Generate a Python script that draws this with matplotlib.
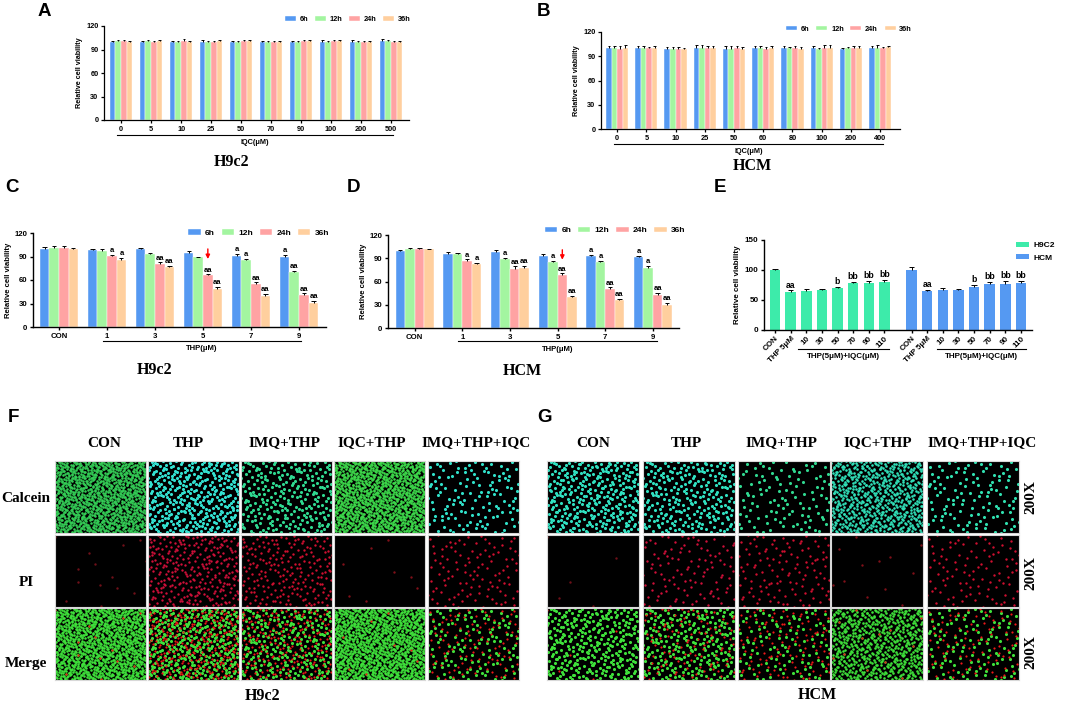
import numpy as np
import matplotlib
matplotlib.use("Agg")
import matplotlib.pyplot as plt
from matplotlib.lines import Line2D

plt.rcParams['font.family'] = ['Liberation Sans', 'DejaVu Sans']
plt.rcParams['font.weight'] = 'bold'

# ---------------- data ----------------
series = ['6h', '12h', '24h', '36h']
series_colors = ['#5599F2', '#A3F5A0', '#FFA3A3', '#FFCF9E']

A_groups = ['0', '5', '10', '25', '50', '70', '90', '100', '200', '500']
A_6h = [100, 100, 99.5, 100, 99, 100, 99, 100, 100, 101]
A_12h = [101, 101, 100, 100, 99.5, 100, 99, 100, 99.5, 100.5]
A_24h = [101, 99.5, 101, 99.5, 100.5, 99.5, 101, 100.5, 100, 100]
A_36h = [100, 100.5, 99.5, 100.5, 100.5, 99.5, 101, 100.5, 100, 100]
A_err_6h = [1, 1, 1, 1.5, 1.5, 1, 1.5, 1.5, 2, 2]
A_err_12h = [1, 1.5, 0.8, 1, 0.8, 1, 1.5, 1, 1, 2]
A_err_24h = [1, 1.5, 2, 0.8, 1.5, 1.5, 1.5, 1.5, 0.8, 0.8]
A_err_36h = [0.8, 1, 1.5, 1.5, 1.5, 1.5, 1.5, 1.5, 0.8, 0.8]

B_groups = ['0', '5', '10', '25', '50', '60', '80', '100', '200', '400']
B_6h = [100, 100, 99, 100, 99, 100, 100.5, 100, 99.5, 100]
B_12h = [100, 100, 99.5, 100, 99.5, 100, 100, 99, 100, 100.5]
B_24h = [99.5, 100, 99, 100, 100, 99, 100, 100.5, 100, 100]
B_36h = [100.5, 100, 99.5, 100, 99, 100, 99, 100.5, 100, 101]
B_err_6h = [3, 3, 3, 4, 4, 3, 2, 2.5, 1, 3]
B_err_12h = [3, 3, 2, 3.5, 3, 3, 2, 1, 2, 4]
B_err_24h = [3, 2, 2, 3, 2.5, 3, 2.5, 4, 3, 1]
B_err_36h = [3, 3, 1, 3, 2, 3, 2, 3, 2.5, 2]

C_groups = ['CON', '1', '3', '5', '7', '9']
C_6h = [100, 98.5, 100, 95, 91, 90]
C_12h = [101, 96.5, 93, 89, 85, 70]
C_24h = [101, 91, 80, 66, 55, 41]
C_36h = [100, 86, 76, 49, 40, 31]
C_err_6h = [1.5, 1.2, 1.2, 2, 2, 2.5]
C_err_12h = [2, 2.5, 1, 1, 1.5, 2]
C_err_24h = [2, 1.5, 2.5, 1.2, 2, 2]
C_err_36h = [1, 2, 2, 2, 2, 2]
C_sig_6h = ['', '', '', '', 'a', 'a']
C_sig_12h = ['', '', '', '', 'a', 'aa']
C_sig_24h = ['', 'a', 'aa', 'aa', 'aa', 'aa']
C_sig_36h = ['', 'a', 'aa', 'aa', 'aa', 'aa']

D_groups = ['CON', '1', '3', '5', '7', '9']
D_6h = [100, 96, 98.5, 93, 93, 91]
D_12h = [102, 95, 88.5, 85.5, 85.5, 78]
D_24h = [101.5, 86.5, 76.5, 68, 50.5, 42.5]
D_36h = [101.5, 82, 77.5, 40, 36, 30]
D_err_6h = [1, 1.5, 2.5, 2, 1.5, 2]
D_err_12h = [1.5, 1.5, 1.5, 1, 1.5, 2.5]
D_err_24h = [2, 2, 3, 2.5, 2, 3]
D_err_36h = [1, 2.5, 3, 1.5, 2, 2]
D_sig_6h = ['', '', '', '', 'a', 'a']
D_sig_12h = ['', '', 'a', 'a', 'a', 'a']
D_sig_24h = ['', 'a', 'aa', 'aa', 'aa', 'aa']
D_sig_36h = ['', 'a', 'aa', 'aa', 'aa', 'aa']

E_labels = ['CON', 'THP 5μM', '10', '30', '50', '70', '90', '110']
E_H9C2 = [100, 64, 65.5, 66, 69.5, 78, 78.5, 80]
E_HCM = [100, 65, 66.5, 66.5, 71, 77.5, 77.5, 78]
E_err_H9C2 = [2, 2, 3, 3, 3, 2.5, 3.5, 4]
E_err_HCM = [5.5, 2.5, 3, 2, 3.5, 2.5, 3.5, 3]
E_sig = ['', 'aa', '', '', 'b', 'bb', 'bb', 'bb']
E_colors = ['#3DEBAA', '#5599F2']

img_cols = ['CON', 'THP', 'IMQ+THP', 'IQC+THP', 'IMQ+THP+IQC']
img_rows = ['Calcein', 'PI', 'Merge']
# relative cell counts per image (visual density)
F_live = [1100, 380, 260, 1100, 130]
F_dead = [14, 300, 220, 8, 110]
F_live_color = ['#33CC55', '#33E0D0', '#2FD890', '#3CD84A', '#30E0C8']
G_live = [330, 260, 110, 650, 120]
G_dead = [5, 110, 120, 12, 100]
G_live_color = ['#30E0C0', '#30E0C0', '#30D890', '#30E0B8', '#30E0B0']
dead_color = ['#701018', '#D0103A', '#D01030', '#801018', '#D01030']

# ---------------- figure ----------------
W, H = 1065, 702
fig = plt.figure(figsize=(W / 100, H / 100), dpi=100)


def ax_px(l, t, r, b):
    return fig.add_axes([l / W, 1 - b / H, (r - l) / W, (b - t) / H])


def ftext(x, y, s, **kw):
    fig.text(x / W, 1 - y / H, s, **kw)


def style(ax, tick_fs, lw=0.9):
    for s in ['top', 'right']:
        ax.spines[s].set_visible(False)
    for s in ['left', 'bottom']:
        ax.spines[s].set_linewidth(lw)
    ax.tick_params(axis='both', labelsize=tick_fs, width=lw, length=2.5, pad=1.5)
    for lab in ax.get_xticklabels() + ax.get_yticklabels():
        lab.set_fontweight('bold')


def grouped(ax, groups, vals, errs, sigs=None, w=0.19, sig_fs=5.5):
    x = np.arange(len(groups))
    pos_all = []
    for i, (v, e, c, lab) in enumerate(zip(vals, errs, series_colors, series)):
        pos = x + (i - 1.5) * w
        v = np.array(v, float)
        e = np.array(e, float)
        ax.bar(pos, v, w, color=c, label=lab, edgecolor='white', linewidth=0.3, zorder=2)
        ax.vlines(pos, v, v + e, color='black', lw=0.7, zorder=3)
        ax.hlines(v + e, pos - w * 0.22, pos + w * 0.22, color='black', lw=0.7, zorder=3)
        if sigs is not None:
            for p, vv, ee, s in zip(pos, v, e, sigs[i]):
                if s:
                    ax.text(p, vv + ee + 1.0, s, ha='center', va='bottom',
                            fontsize=sig_fs, fontweight='bold')
        pos_all.append(pos)
    ax.set_xticks(x)
    ax.set_xticklabels(groups)
    return pos_all


def underline(ax, x0, x1, yline, ylab, label, fs):
    tr = ax.get_xaxis_transform()
    ax.add_line(Line2D([x0, x1], [yline, yline], transform=tr, color='black',
                       lw=0.8, clip_on=False))
    ax.text((x0 + x1) / 2, ylab, label, transform=tr, ha='center', va='center',
            fontsize=fs, fontweight='bold')


def legend4(ax, cx, cy, fs, cs=1.2):
    ax.legend(loc='center', bbox_to_anchor=(cx, cy), ncol=4, frameon=False,
              handlelength=1.5, handleheight=0.6, handletextpad=0.5,
              columnspacing=cs, borderpad=0, prop={'weight': 'bold', 'size': fs})


# ----- Panel A -----
axA = ax_px(104, 26, 409, 120)
grouped(axA, A_groups, [A_6h, A_12h, A_24h, A_36h],
        [A_err_6h, A_err_12h, A_err_24h, A_err_36h])
axA.set_xlim(-0.57, 9.6)
axA.set_ylim(0, 120)
axA.set_yticks([0, 30, 60, 90, 120])
axA.set_ylabel('Relative cell viability', fontsize=5.2, fontweight='bold', labelpad=2)
style(axA, 5.3)
underline(axA, -0.13, 9.07, -0.16, -0.235, 'IQC(μM)', 5.3)
legend4(axA, 0.80, 1.07, 5.3, cs=0.9)

# ----- Panel B -----
axB = ax_px(601, 32, 900, 129)
grouped(axB, B_groups, [B_6h, B_12h, B_24h, B_36h],
        [B_err_6h, B_err_12h, B_err_24h, B_err_36h])
axB.set_xlim(-0.55, 9.68)
axB.set_ylim(0, 120)
axB.set_yticks([0, 30, 60, 90, 120])
axB.set_ylabel('Relative cell viability', fontsize=5.2, fontweight='bold', labelpad=2)
style(axB, 5.3)
underline(axB, -0.1, 9.1, -0.155, -0.237, 'IQC(μM)', 5.3)
legend4(axB, 0.83, 1.03, 5.3, cs=0.9)

# ----- Panel C -----
axC = ax_px(33, 233, 326, 327)
posC = grouped(axC, C_groups, [C_6h, C_12h, C_24h, C_36h],
               [C_err_6h, C_err_12h, C_err_24h, C_err_36h],
               sigs=[C_sig_6h, C_sig_12h, C_sig_24h, C_sig_36h], w=0.2)
axC.set_xlim(-0.54, 5.56)
axC.set_ylim(0, 120)
axC.set_yticks([0, 30, 60, 90, 120])
axC.set_ylabel('Relative cell viability', fontsize=5.6, fontweight='bold', labelpad=2)
style(axC, 5.6, lw=1)
underline(axC, 0.92, 5.04, -0.149, -0.225, 'THP(μM)', 5.6)
legend4(axC, 0.77, 1.0, 6, cs=0.8)
pa = posC[2][3]
ta = C_24h[3] + C_err_24h[3]
axC.annotate('', xy=(pa, ta + 16), xytext=(pa, ta + 36),
             arrowprops=dict(arrowstyle='-|>', color='red', lw=1.0, mutation_scale=6))

# ----- Panel D -----
axD = ax_px(388, 235, 679, 328)
posD = grouped(axD, D_groups, [D_6h, D_12h, D_24h, D_36h],
               [D_err_6h, D_err_12h, D_err_24h, D_err_36h],
               sigs=[D_sig_6h, D_sig_12h, D_sig_24h, D_sig_36h], w=0.2)
axD.set_xlim(-0.56, 5.55)
axD.set_ylim(0, 120)
axD.set_yticks([0, 30, 60, 90, 120])
axD.set_ylabel('Relative cell viability', fontsize=5.6, fontweight='bold', labelpad=2)
style(axD, 5.6, lw=1)
underline(axD, 0.92, 5.08, -0.14, -0.226, 'THP(μM)', 5.6)
legend4(axD, 0.78, 1.05, 6, cs=0.8)
pa = posD[2][3]
ta = D_24h[3] + D_err_24h[3]
axD.annotate('', xy=(pa, ta + 14), xytext=(pa, ta + 34),
             arrowprops=dict(arrowstyle='-|>', color='red', lw=1.0, mutation_scale=6))

# ----- Panel E -----
axE = ax_px(764, 240, 1032, 330)
n = len(E_labels)
xg1 = np.arange(n)
xg2 = np.arange(n) + n + 0.73
wE = 0.68
for xg, vals, errs, c, lab in [(xg1, E_H9C2, E_err_H9C2, E_colors[0], 'H9C2'),
                               (xg2, E_HCM, E_err_HCM, E_colors[1], 'HCM')]:
    v = np.array(vals, float)
    e = np.array(errs, float)
    axE.bar(xg, v, wE, color=c, label=lab, zorder=2)
    axE.vlines(xg, v, v + e, color='black', lw=0.7, zorder=3)
    axE.hlines(v + e, xg - 0.17, xg + 0.17, color='black', lw=0.7, zorder=3)
    for p, vv, ee, s in zip(xg, v, e, E_sig):
        if s:
            axE.text(p, vv + ee + 1.5, s, ha='center', va='bottom', fontsize=6.2,
                     fontweight='bold')
axE.set_xlim(-0.7, 16.43)
axE.set_ylim(0, 150)
axE.set_yticks([0, 50, 100, 150])
axE.set_xticks(np.concatenate([xg1, xg2]))
axE.set_xticklabels(E_labels + E_labels, rotation=45, ha='right', rotation_mode='anchor')
axE.set_ylabel('Relative cell viability', fontsize=5.8, fontweight='bold', labelpad=3)
style(axE, 5.8, lw=1)
axE.tick_params(axis='x', pad=1)
underline(axE, xg1[2] - 0.5, xg1[-1] + 0.3, -0.21, -0.29, 'THP(5μM)+IQC(μM)', 5.8)
underline(axE, xg2[2] - 0.4, xg2[-1] + 0.3, -0.21, -0.29, 'THP(5μM)+IQC(μM)', 5.8)
axE.legend(loc='center left', bbox_to_anchor=(0.925, 0.87), frameon=False,
           handlelength=1.5, handleheight=0.6, handletextpad=0.6, labelspacing=0.6,
           prop={'weight': 'bold', 'size': 6.0}, borderpad=0)

# ----- panel letters and titles -----
for lt, (x, y) in zip('ABCDEFG', [(44, 12), (543, 12), (12, 188), (353, 188),
                                  (720, 188), (13, 418), (545, 418)]):
    ftext(x, y, lt, fontsize=13.5, fontweight='bold', ha='center', va='center')

serif = ['Liberation Serif', 'DejaVu Serif']
for s, (x, y) in [('H9c2', (232, 162)), ('HCM', (752, 166)), ('H9c2', (155, 370)),
                  ('HCM', (522, 371)), ('H9c2', (263, 696)), ('HCM', (817, 695))]:
    ftext(x, y, s, fontsize=11.5, fontweight='bold', ha='center', va='center', family=serif)


# ----- fluorescence image grids (decorative texture) -----
def halton(idx, base):
    out = np.zeros(len(idx))
    for k, i in enumerate(idx):
        f, r = 1.0, 0.0
        while i > 0:
            f /= base
            r += f * (i % base)
            i //= base
        out[k] = r
    return out


def cell_pts(n, seed_off):
    idx = np.arange(1, n + 1) + seed_off
    return halton(idx, 2), halton(idx, 3)


def draw_grid(lefts, width, tops, height, live, dead, live_col, off):
    for j in range(5):
        gx, gy = cell_pts(live[j], 37 * j + off)
        rx, ry = cell_pts(dead[j], 500 + 53 * j + off)
        gsz = 3.5 if live[j] > 600 else 5
        for r in range(3):
            ax = ax_px(lefts[j], tops[r], lefts[j] + width, tops[r] + height)
            ax.set_facecolor('black')
            ax.set_xlim(0, 1)
            ax.set_ylim(0, 1)
            ax.set_xticks([])
            ax.set_yticks([])
            for s in ax.spines.values():
                s.set_color('#d8d8d8')
                s.set_linewidth(0.8)
            if r == 0:
                ax.scatter(gx, gy, s=gsz, c=live_col[j], linewidths=0)
            elif r == 1:
                ax.scatter(rx, ry, s=3.0, c=dead_color[j], linewidths=0)
            else:
                ax.scatter(gx, gy, s=gsz, c='#3EE03A', linewidths=0)
                ax.scatter(rx, ry, s=2.5, c='#F01818', linewidths=0)


tops = [461, 535, 608]
draw_grid([55, 148, 241, 334, 428], 91, tops, 72, F_live, F_dead, F_live_color, 0)
draw_grid([547, 643, 738, 831, 927], 92, tops, 72, G_live, G_dead, G_live_color, 11)

for s, x in zip(img_cols, [104, 188, 284, 372, 476]):
    ftext(x, 443, s, fontsize=11, fontweight='bold', ha='center', va='center', family=serif)
for s, x in zip(img_cols, [593, 686, 781, 878, 982]):
    ftext(x, 443, s, fontsize=11, fontweight='bold', ha='center', va='center', family=serif)
for s, y in zip(img_rows, [499, 582, 663]):
    ftext(26, y, s, fontsize=11, fontweight='bold', ha='center', va='center', family=serif)
for y in [497, 573, 652]:
    ftext(1031, y, '200X', fontsize=11, fontweight='bold', ha='center', va='center',
          rotation=90, family=serif)

fig.savefig('out.png', dpi=100)
